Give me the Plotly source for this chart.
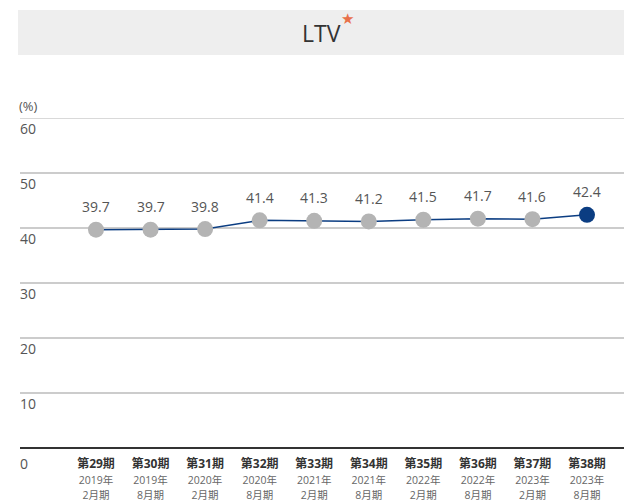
import plotly.graph_objects as go

periods = ["第29期", "第30期", "第31期", "第32期", "第33期",
           "第34期", "第35期", "第36期", "第37期", "第38期"]
years = ["2019年", "2019年", "2020年", "2020年", "2021年",
         "2021年", "2022年", "2022年", "2023年", "2023年"]
months = ["2月期", "8月期", "2月期", "8月期", "2月期",
          "8月期", "2月期", "8月期", "2月期", "8月期"]
ltv = [39.7, 39.7, 39.8, 41.4, 41.3, 41.2, 41.5, 41.7, 41.6, 42.4]
y_ticks = [0, 10, 20, 30, 40, 50, 60]

FONT = "Open Sans, Noto Sans CJK JP, sans-serif"
NAVY = "#0b3d82"
GREY_DOT = "#b4b4b4"

PLOT_W, PLOT_H = 604, 330
xs = list(range(len(periods)))
marker_colors = [GREY_DOT] * (len(ltv) - 1) + [NAVY]

ticktext = [
    f"<b>{p}</b><br><span style='font-size:10.5px;color:#666'>{y}<br>{m}</span>"
    for p, y, m in zip(periods, years, months)
]

fig = go.Figure()
fig.add_trace(go.Scatter(
    x=xs, y=ltv,
    mode="lines+markers",
    line=dict(color=NAVY, width=1.5),
    marker=dict(size=16, color=marker_colors, line=dict(width=0)),
    cliponaxis=False,
    hoverinfo="skip",
))

annotations = []
# value labels above each point
for x, v in zip(xs, ltv):
    annotations.append(dict(x=x, y=v, xref="x", yref="y", text=f"{v:.1f}",
                            showarrow=False, yanchor="middle", yshift=23,
                            font=dict(size=14, color="#555555", family=FONT)))

# y tick labels sit just below each gridline at the left edge
for v in y_ticks:
    annotations.append(dict(xref="paper", x=0.0, yref="y", y=v, text=str(v),
                            showarrow=False, xanchor="left", yanchor="middle",
                            yshift=-10 if v else -15, xshift=-2,
                            font=dict(size=14, color="#555555", family=FONT)))

annotations.append(dict(xref="paper", x=0.0, yref="paper", y=1.0, yshift=12,
                        text="(%)", showarrow=False, xanchor="left", yanchor="middle",
                        xshift=-3, font=dict(size=13, color="#555555", family=FONT)))

# title band
annotations.append(dict(xref="paper", x=(321 - 20) / PLOT_W, yref="paper", y=1.0,
                        yshift=(118 - 33), text="LTV", showarrow=False,
                        xanchor="center", yanchor="middle",
                        font=dict(size=23, color="#333333", family=FONT)))
annotations.append(dict(xref="paper", x=(347 - 20) / PLOT_W, yref="paper", y=1.0,
                        yshift=(118 - 19), text="★", showarrow=False,
                        xanchor="center", yanchor="middle",
                        font=dict(size=15, color="#e8704a", family="DejaVu Sans")))

shapes = [
    dict(type="rect", xref="paper", yref="paper", x0=-2 / PLOT_W, x1=1.0,
         y0=1 + (118 - 55) / PLOT_H, y1=1 + (118 - 10) / PLOT_H,
         fillcolor="#eeeeee", line=dict(width=0), layer="below"),
    # top gridline at the range edge
    dict(type="line", xref="paper", yref="y", x0=0, x1=1, y0=y_ticks[-1], y1=y_ticks[-1],
         line=dict(color="#cccccc", width=1.5), layer="below"),
]

fig.update_layout(
    width=624, height=504,
    margin=dict(l=20, r=0, t=118, b=56),
    paper_bgcolor="white", plot_bgcolor="white",
    showlegend=False,
    font=dict(family=FONT),
    annotations=annotations,
    shapes=shapes,
    xaxis=dict(
        range=[-76 / 54.56, 9 + 37 / 54.56],
        tickmode="array", tickvals=xs, ticktext=ticktext,
        tickfont=dict(size=12, color="#333333", family=FONT),
        ticklabelstandoff=7,
        showgrid=False, zeroline=False, showline=False, ticks="",
        fixedrange=True,
    ),
    yaxis=dict(
        range=[0, 60],
        tickmode="array", tickvals=y_ticks, showticklabels=False,
        showgrid=True, gridcolor="#cccccc", gridwidth=1.5,
        zeroline=True, zerolinecolor="#333333", zerolinewidth=2,
        ticks="", showline=False, fixedrange=True,
    ),
)

fig.write_html("out.html")
